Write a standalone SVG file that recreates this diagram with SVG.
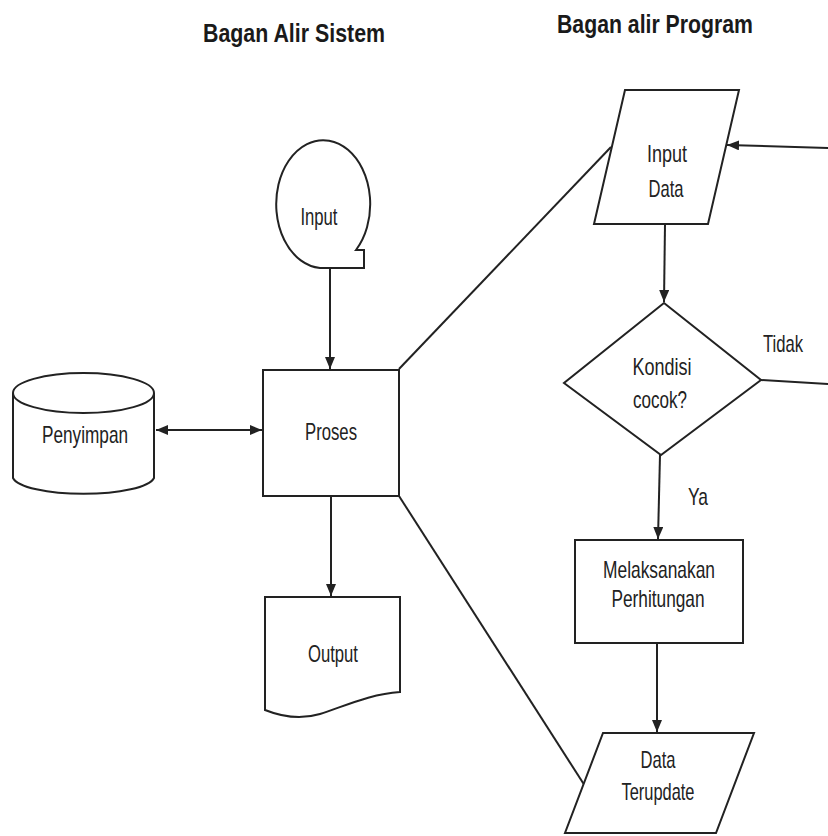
<svg xmlns="http://www.w3.org/2000/svg" width="828" height="836" viewBox="0 0 828 836">
  <style>
    .shape { fill: #ffffff; stroke: #222222; stroke-width: 2; stroke-linejoin: miter; }
    .line { fill: none; stroke: #222222; stroke-width: 2; }
    .arrow { fill: none; stroke: #222222; stroke-width: 2; marker-end: url(#head); }
    .label { font-family: "Liberation Sans Narrow", "Liberation Sans", Arial, sans-serif; font-size: 24px; fill: #222222; text-anchor: middle; }
    .title { font-family: "Liberation Sans Narrow", "Liberation Sans", Arial, sans-serif; font-size: 25px; font-weight: bold; fill: #1a1a1a; text-anchor: middle; }
  </style>
  <defs>
    <marker id="head" viewBox="0 0 12 10" refX="12" refY="5" markerWidth="12" markerHeight="10" markerUnits="userSpaceOnUse" orient="auto-start-reverse">
      <path d="M0,0 L12,5 L0,10 Z" fill="#222222"/>
    </marker>
  </defs>

  <rect x="0" y="0" width="828" height="836" fill="#ffffff"/>

  <!-- Titles -->
  <text class="title" x="294" y="42" textLength="182" lengthAdjust="spacingAndGlyphs">Bagan Alir Sistem</text>
  <text class="title" x="655" y="33" textLength="196" lengthAdjust="spacingAndGlyphs">Bagan alir Program</text>

  <!-- Connectors -->
  <g id="connectors">
    <line class="arrow" x1="330" y1="268" x2="330" y2="369"/>
    <line class="arrow" x1="156" y1="430" x2="262" y2="430" style="marker-start:url(#head)"/>
    <line class="arrow" x1="331" y1="496" x2="331" y2="596"/>
    <line class="line" x1="399" y1="369" x2="611" y2="147"/>
    <line class="line" x1="399" y1="496" x2="585" y2="786"/>
    <line class="arrow" x1="665" y1="224" x2="664" y2="302"/>
    <line class="arrow" x1="828" y1="148" x2="727" y2="145"/>
    <line class="line" x1="761" y1="380" x2="828" y2="384"/>
    <line class="arrow" x1="660" y1="455" x2="658" y2="539"/>
    <line class="arrow" x1="657" y1="643" x2="657" y2="732"/>
  </g>

  <!-- Sistem flowchart -->
  <g id="input">
    <path class="shape" d="M320,268 A47,64 0 1 1 356,250 L364,250 L364,268 Z"/>
    <text class="label" x="319" y="225" textLength="37" lengthAdjust="spacingAndGlyphs">Input</text>
  </g>

  <g id="penyimpan">
    <path class="shape" d="M13,393 L13,478 A71,18 0 0 0 154,478 L154,393"/>
    <ellipse class="shape" cx="83.5" cy="393" rx="70.5" ry="20"/>
    <text class="label" x="85" y="443" textLength="86" lengthAdjust="spacingAndGlyphs">Penyimpan</text>
  </g>

  <g id="proses">
    <rect class="shape" x="263" y="370" width="136" height="126"/>
    <text class="label" x="331" y="440" textLength="52" lengthAdjust="spacingAndGlyphs">Proses</text>
  </g>

  <g id="output">
    <path class="shape" d="M265,597 L400,597 L400,692 C370,694 345,706 320,714 C300,720 280,716 265,710 Z"/>
    <text class="label" x="333" y="662" textLength="50" lengthAdjust="spacingAndGlyphs">Output</text>
  </g>

  <!-- Program flowchart -->
  <g id="input-data">
    <polygon class="shape" points="625,90 739,90 708,224 594,224"/>
    <text class="label" x="667" y="162" textLength="40" lengthAdjust="spacingAndGlyphs">Input</text>
    <text class="label" x="666" y="197" textLength="35" lengthAdjust="spacingAndGlyphs">Data</text>
  </g>

  <g id="kondisi">
    <polygon class="shape" points="664,303 761,380 661,455 564,383"/>
    <text class="label" x="662" y="375" textLength="59" lengthAdjust="spacingAndGlyphs">Kondisi</text>
    <text class="label" x="660" y="408" textLength="54" lengthAdjust="spacingAndGlyphs">cocok?</text>
  </g>
  <text class="label" x="783" y="352" textLength="40" lengthAdjust="spacingAndGlyphs">Tidak</text>
  <text class="label" x="698" y="505" textLength="20" lengthAdjust="spacingAndGlyphs">Ya</text>

  <g id="perhitungan">
    <rect class="shape" x="575" y="540" width="168" height="103"/>
    <text class="label" x="659" y="578" textLength="112" lengthAdjust="spacingAndGlyphs">Melaksanakan</text>
    <text class="label" x="658" y="607" textLength="93" lengthAdjust="spacingAndGlyphs">Perhitungan</text>
  </g>

  <g id="data-terupdate">
    <polygon class="shape" points="603,733 754,733 716,833 565,833"/>
    <text class="label" x="658" y="768" textLength="35" lengthAdjust="spacingAndGlyphs">Data</text>
    <text class="label" x="658" y="800" textLength="73" lengthAdjust="spacingAndGlyphs">Terupdate</text>
  </g>
</svg>
